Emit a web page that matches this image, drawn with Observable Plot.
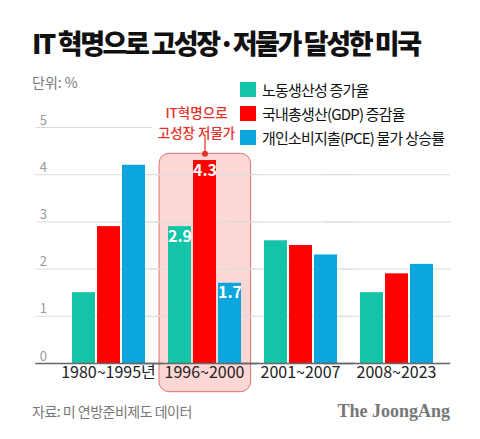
<!DOCTYPE html>
<html>
<head>
<meta charset="utf-8">
<script src="https://cdn.jsdelivr.net/npm/d3@7"></script>
<script src="https://cdn.jsdelivr.net/npm/@observablehq/plot@0.6"></script>
<style>
  html, body { margin: 0; padding: 0; background: #fff; }
  body { width: 480px; height: 439px; position: relative; overflow: hidden;
         font-family: "Noto Sans CJK KR", "Noto Sans", sans-serif; }
  #title { position: absolute; left: 32px; top: 24px; font-size: 27px; font-weight: 900;
           color: #111; letter-spacing: -2.4px; white-space: nowrap; line-height: 38px; }
  #unit { position: absolute; left: 32px; top: 72px; font-size: 14px; color: #777; line-height: 20px; }
  #legend { position: absolute; left: 240px; top: 77px; }
  .item { display: flex; align-items: center; height: 24px; font-size: 15px; color: #111;
          letter-spacing: -0.8px; white-space: nowrap; }
  .sw { width: 16px; height: 15px; margin-right: 6px; flex: none; }
  #chart { position: absolute; left: 0; top: 95px; }
  #source { position: absolute; left: 32px; top: 401px; font-size: 14px; color: #777; line-height: 20px; letter-spacing: -0.5px; }
  #brand { position: absolute; right: 30px; top: 399px; font-family: "Liberation Serif", "DejaVu Serif", serif;
           font-weight: bold; font-size: 18px; color: #777; line-height: 24px; }
</style>
</head>
<body>
<div id="title">IT 혁명으로 고성장·저물가 달성한 미국</div>
<div id="unit">단위: %</div>
<div id="legend"></div>
<div id="chart"></div>
<div id="source">자료: 미 연방준비제도 데이터</div>
<div id="brand">The JoongAng</div>
<script>
const groups = ["1980~1995년", "1996~2000", "2001~2007", "2008~2023"];
const seriesNames = ["노동생산성 증가율", "국내총생산(GDP) 증감율", "개인소비지출(PCE) 물가 상승률"];
const productivity = [1.5, 2.9, 2.6, 1.5];
const gdp = [2.9, 4.3, 2.5, 1.9];
const pce = [4.2, 1.7, 2.3, 2.1];
const yTicks = [0, 1, 2, 3, 4, 5];
const highlightGroup = "1996~2000";
const annotation = "IT혁명으로\n고성장 저물가";
const colors = ["#13c4a8", "#ff0000", "#0aa6dc"];
const red = "#e8312b";

const seriesValues = [productivity, gdp, pce];
const rows = [];
groups.forEach((g, i) => seriesNames.forEach((s, j) => rows.push({group: g, series: s, value: seriesValues[j][i]})));

// legend
const legend = document.getElementById("legend");
seriesNames.forEach((s, j) => {
  const it = document.createElement("div");
  it.className = "item";
  it.innerHTML = `<span class="sw" style="background:${colors[j]}"></span><span>${s}</span>`;
  legend.appendChild(it);
});

const firstGroup = groups[0];
const chart = Plot.plot({
  width: 480,
  height: 300,
  marginLeft: 32,
  marginRight: 29,
  marginTop: 32,
  marginBottom: 32,
  style: {fontFamily: '"Noto Sans CJK KR", "Noto Sans", sans-serif', background: "transparent"},
  fx: {domain: groups, paddingInner: 0, paddingOuter: 0.16, align: 0.79, axis: null},
  x: {domain: seriesNames, paddingInner: 0.096, paddingOuter: 0.413, axis: null},
  y: {domain: [0, 5], axis: null},
  color: {domain: seriesNames, range: colors},
  marks: [
    Plot.rect([highlightGroup], {fx: d => d, fill: "#fdd6d6", stroke: "#e07070", strokeWidth: 1, rx: 10,
      insetLeft: 3, insetRight: 1.4, insetTop: 26.3, insetBottom: -28.7}),
    // gridlines (each facet's rule extended so that together they span the full width)
    Plot.ruleY(yTicks.filter(d => d > 0 && d < 5), {stroke: "#dcdcdc", insetLeft: -24.7, insetRight: -6.3}),
    Plot.ruleY(yTicks.filter(d => d === 5), {fx: () => firstGroup, stroke: "#dcdcdc", insetLeft: -24.7, insetRight: 3.7}),
    Plot.barY(rows, {fx: "group", x: "series", y: "value", fill: "series"}),
    Plot.ruleY([0], {stroke: "#666", strokeWidth: 1.5, insetLeft: -24.7, insetRight: -6.3}),
    Plot.text(rows.filter(d => d.group === highlightGroup), {fx: "group", x: "series", y: "value",
      text: d => d.value.toFixed(1), dy: 10, fill: "white", fontWeight: "bold", fontSize: 16}),
    Plot.text(yTicks, {fx: () => firstGroup, y: d => d, text: d => String(d), frameAnchor: "left",
      textAnchor: "start", dx: -20.7, dy: -7, fill: "#999", fontSize: 13}),
    Plot.text(groups, {fx: d => d, text: d => d, frameAnchor: "bottom", dy: 14, fontSize: 16, fill: "#222",
      letterSpacing: "-0.4px"}),
    Plot.text([highlightGroup], {fx: d => d, text: () => annotation, frameAnchor: "top", dx: -8, dy: -6,
      lineAnchor: "middle", lineHeight: 1.45, fill: red, fontSize: 13.5, fontWeight: 500}),
    Plot.ruleX([highlightGroup], {fx: d => d, x: () => seriesNames[1], stroke: red, strokeWidth: 1.2,
      insetTop: 10, insetBottom: 210}),
    Plot.dot([highlightGroup], {fx: d => d, x: () => seriesNames[1], frameAnchor: "top", dy: 26.3, r: 3, fill: red})
  ]
});
document.getElementById("chart").appendChild(chart);
</script>
</body>
</html>
